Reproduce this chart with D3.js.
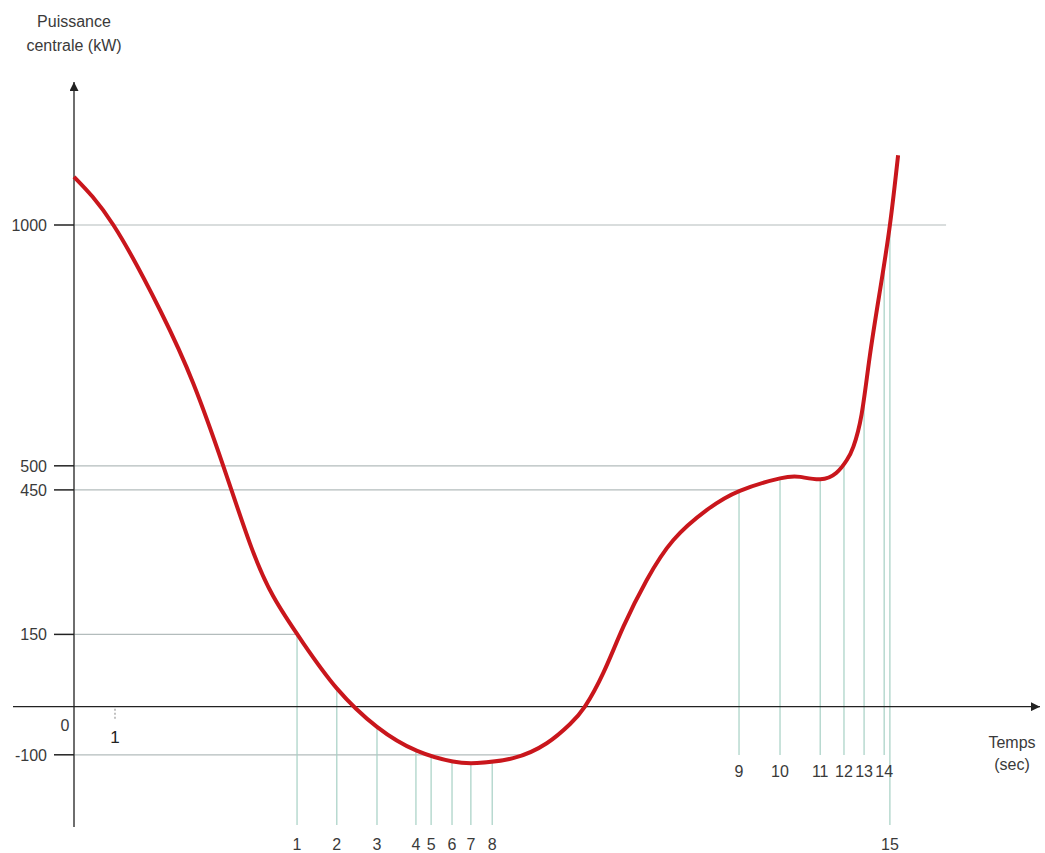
<!DOCTYPE html>
<html>
<head>
<meta charset="utf-8">
<script src="https://cdn.jsdelivr.net/npm/d3@7"></script>
<style>
  html, body { margin: 0; padding: 0; background: #fff; }
  svg { display: block; font-family: "Liberation Sans", Arial, sans-serif; }
</style>
</head>
<body>
<svg id="chart" width="1045" height="853"></svg>
<script>
// ---- data ----
// power curve: time (s) and central power (kW)
const curveTime  = [0, 0.96, 2.10, 2.91, 3.64, 4.29, 4.86, 5.59, 6.41, 7.39, 8.37, 9.24, 9.83, 10.71, 11.53, 12.10, 12.46, 12.91, 13.40, 13.97, 14.62, 15.43, 16.24, 17.22, 17.71, 18.20, 18.59, 18.85, 19.01, 19.21, 19.41, 19.66, 19.90, 20.10];
const curvePower = [1100, 1000, 823, 671, 500, 339, 229, 132, 38, -42, -92, -114, -117, -107, -76, -36, 0, 70, 166, 263, 346, 408, 448, 474, 477, 472, 485, 512, 540, 607, 728, 865, 1000, 1145];

// numbered markers on the curve
const markerLabels = ["1","2","3","4","5","6","7","8","9","10","11","12","13","14","15"];
const markerTime   = [5.44, 6.41, 7.39, 8.34, 8.71, 9.22, 9.68, 10.20, 16.22, 17.22, 18.20, 18.78, 19.27, 19.76, 19.90];
const markerPower  = [150, 38, -42, -91, -103, -114, -117, -114, 448, 474, 472, 503, 640, 920, 1000];
const upperRowLabels = ["9","10","11","12","13","14"];

// horizontal reference levels (kW) and where each guide stops (s)
const yTickValues = [1000, 500, 450, 150, -100];
const guideEndTime = [21.27, 18.68, 16.22, 5.44, 10.88];

// x-axis ticks
const xTickValues = [1];

const yTitle = ["Puissance", "centrale (kW)"];
const xTitle = ["Temps", "(sec)"];

// ---- layout ----
const svg = d3.select("#chart");
const x = d3.scaleLinear().domain([0, 20]).range([74, 894]);
const y = d3.scaleLinear().domain([-100, 1000]).range([754.8, 225]);
const axisColor = "#4a4a4a";
const textColor = "#3a3a3a";
const guideH = "#b3bcbc";
const guideV = "#a6d0c4";
const fontSize = 16;

// horizontal guides
svg.append("g").selectAll("line").data(yTickValues).join("line")
  .attr("x1", x(0)).attr("x2", (d, i) => x(guideEndTime[i]))
  .attr("y1", d => y(d)).attr("y2", d => y(d))
  .attr("stroke", guideH).attr("stroke-width", 1.2);

// vertical marker guides
const lowBottom = 825, highBottom = 755;
svg.append("g").selectAll("line").data(markerLabels).join("line")
  .attr("x1", (d, i) => x(markerTime[i])).attr("x2", (d, i) => x(markerTime[i]))
  .attr("y1", (d, i) => y(markerPower[i]))
  .attr("y2", d => upperRowLabels.includes(d) ? highBottom : lowBottom)
  .attr("stroke", guideV).attr("stroke-width", 1.2);

// marker labels
svg.append("g").selectAll("text").data(markerLabels).join("text")
  .attr("x", (d, i) => x(markerTime[i]))
  .attr("y", d => upperRowLabels.includes(d) ? 777 : 850)
  .attr("text-anchor", "middle")
  .attr("font-size", fontSize).attr("fill", textColor)
  .text(d => d);

// axes
const defs = svg.append("defs");
defs.append("marker").attr("id", "arrow").attr("viewBox", "0 0 10 10")
  .attr("refX", 10).attr("refY", 5).attr("markerWidth", 9).attr("markerHeight", 9)
  .attr("markerUnits", "userSpaceOnUse").attr("orient", "auto")
  .append("path").attr("d", "M0,0 L10,5 L0,10 Z").attr("fill", "#222");

svg.append("line").attr("x1", x(0)).attr("x2", x(0)).attr("y1", 827).attr("y2", 82)
  .attr("stroke", axisColor).attr("stroke-width", 1.6).attr("marker-end", "url(#arrow)");
svg.append("line").attr("x1", 13).attr("x2", 1040).attr("y1", y(0)).attr("y2", y(0))
  .attr("stroke", "#222").attr("stroke-width", 1.4).attr("marker-end", "url(#arrow)");

// y ticks
const yt = svg.append("g").selectAll("g").data(yTickValues).join("g")
  .attr("transform", d => `translate(0,${y(d)})`);
yt.append("line").attr("x1", 54).attr("x2", x(0)).attr("stroke", "#222").attr("stroke-width", 1.5);
yt.append("text").attr("x", 47).attr("dy", "0.36em").attr("text-anchor", "end")
  .attr("font-size", fontSize).attr("fill", textColor).text(d => d);

// origin label
svg.append("text").attr("x", 65).attr("y", 731).attr("text-anchor", "middle")
  .attr("font-size", fontSize).attr("fill", textColor).text("0");

// x ticks
const xt = svg.append("g").selectAll("g").data(xTickValues).join("g")
  .attr("transform", d => `translate(${x(d)},0)`);
xt.append("line").attr("y1", y(0) + 2).attr("y2", y(0) + 14)
  .attr("stroke", "#999").attr("stroke-width", 1.2).attr("stroke-dasharray", "2,2");
xt.append("text").attr("y", 743).attr("text-anchor", "middle")
  .attr("font-size", 17).attr("fill", "#222").text(d => d);

// curve
const pts = curveTime.map((t, i) => [t, curvePower[i]]);
const line = d3.line().x(d => x(d[0])).y(d => y(d[1])).curve(d3.curveNatural);
svg.append("path").datum(pts).attr("d", line)
  .attr("fill", "none").attr("stroke", "#c9161c").attr("stroke-width", 4)
  .attr("stroke-linecap", "butt");

// titles
svg.append("g").selectAll("text").data(yTitle).join("text")
  .attr("x", 74).attr("y", (d, i) => 27 + i * 24).attr("text-anchor", "middle")
  .attr("font-size", fontSize).attr("fill", textColor).text(d => d);
svg.append("g").selectAll("text").data(xTitle).join("text")
  .attr("x", 1012).attr("y", (d, i) => 748 + i * 22).attr("text-anchor", "middle")
  .attr("font-size", fontSize).attr("fill", textColor).text(d => d);
</script>
</body>
</html>
